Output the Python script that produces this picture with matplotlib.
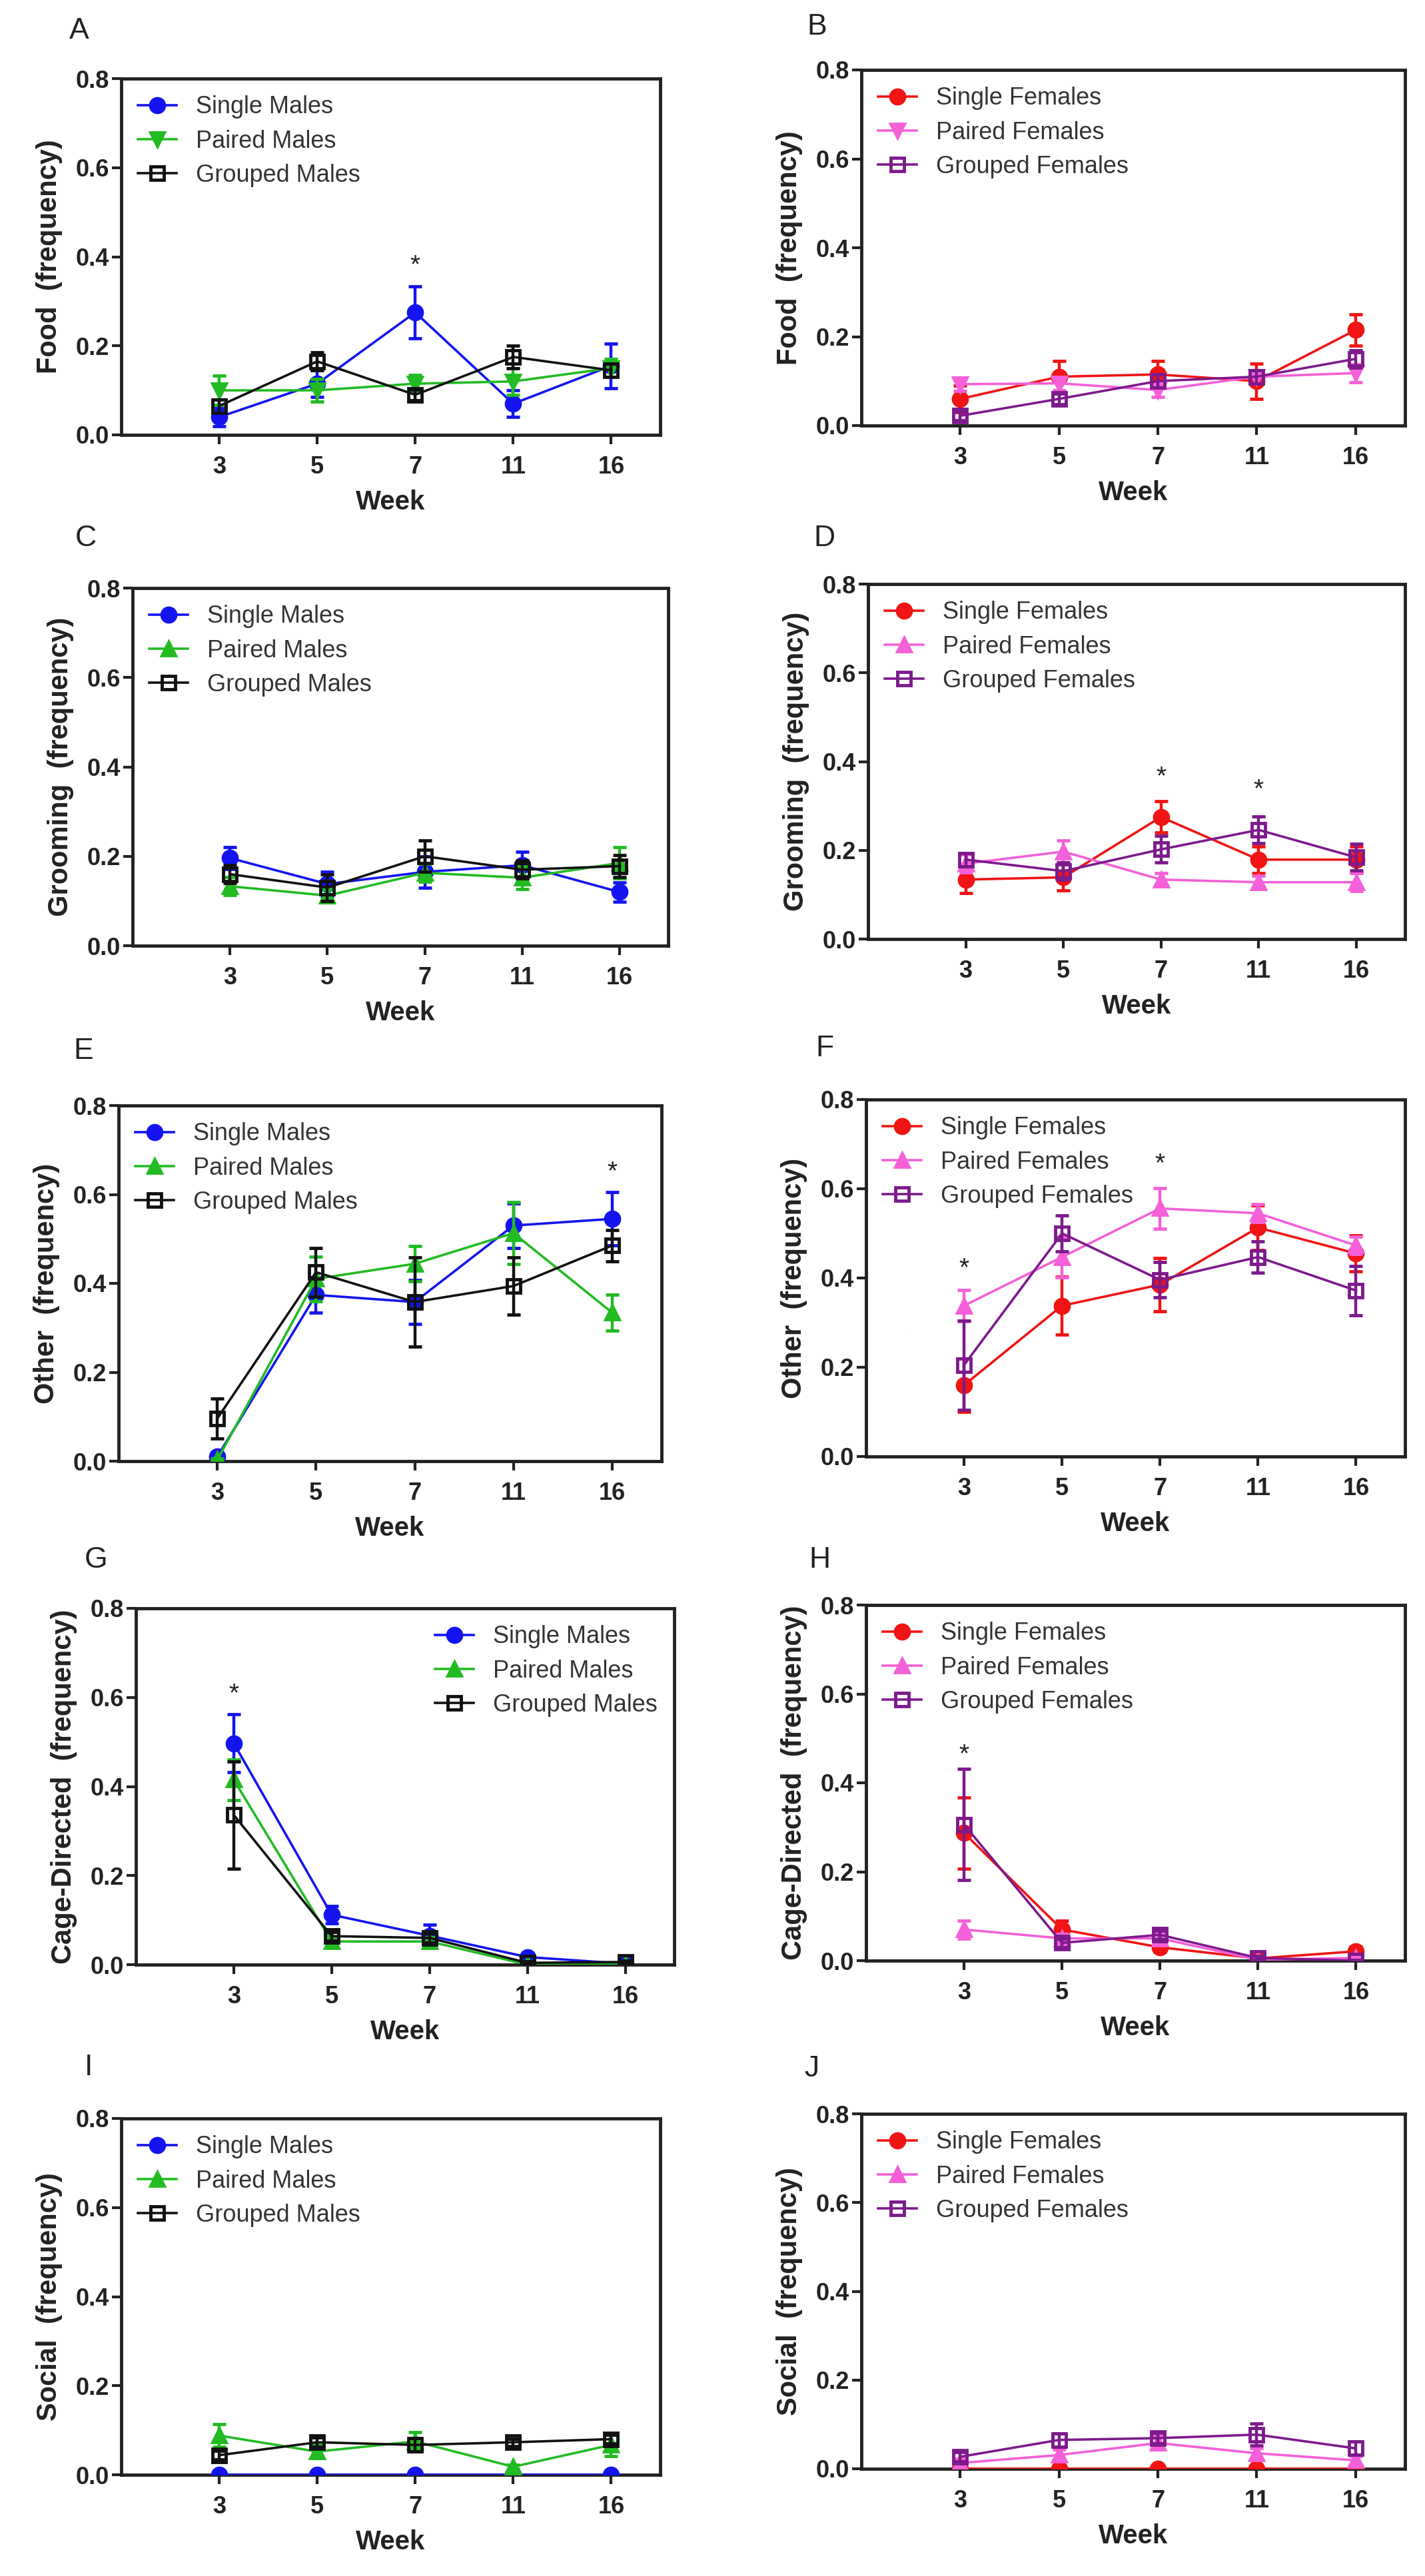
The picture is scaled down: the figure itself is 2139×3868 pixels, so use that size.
import matplotlib
matplotlib.use("Agg")
from matplotlib import pyplot as plt
import numpy as np

plt.rcParams['font.family'] = ['Liberation Sans', 'DejaVu Sans']

weeks = ['3', '5', '7', '11', '16']

male_labels = ['Single Males', 'Paired Males', 'Grouped Males']
female_labels = ['Single Females', 'Paired Females', 'Grouped Females']
male_colors = ['#1414f0', '#22bb22', '#111111']
female_colors = ['#f01414', '#f560d8', '#7d1a8c']

# A - food, males
food_m_single = [0.04, 0.115, 0.275, 0.07, 0.155]
food_m_single_err = [0.02, 0.03, 0.058, 0.03, 0.05]
food_m_paired = [0.10, 0.10, 0.115, 0.12, 0.15]
food_m_paired_err = [0.033, 0.025, 0.02, 0.03, 0.02]
food_m_grouped = [0.065, 0.165, 0.09, 0.175, 0.145]
food_m_grouped_err = [0.015, 0.02, 0.012, 0.025, 0.015]

# B - food, females
food_f_single = [0.06, 0.11, 0.115, 0.10, 0.215]
food_f_single_err = [0.03, 0.035, 0.03, 0.04, 0.035]
food_f_paired = [0.093, 0.095, 0.08, 0.11, 0.118]
food_f_paired_err = [0.015, 0.015, 0.015, 0.015, 0.02]
food_f_grouped = [0.022, 0.06, 0.10, 0.11, 0.15]
food_f_grouped_err = [0.01, 0.012, 0.015, 0.015, 0.02]

# C - grooming, males
groom_m_single = [0.196, 0.138, 0.165, 0.18, 0.12]
groom_m_single_err = [0.025, 0.028, 0.035, 0.03, 0.022]
groom_m_paired = [0.133, 0.112, 0.163, 0.152, 0.185]
groom_m_paired_err = [0.02, 0.015, 0.02, 0.025, 0.035]
groom_m_grouped = [0.16, 0.13, 0.20, 0.17, 0.178]
groom_m_grouped_err = [0.02, 0.03, 0.035, 0.02, 0.025]

# D - grooming, females
groom_f_single = [0.134, 0.139, 0.275, 0.179, 0.179]
groom_f_single_err = [0.03, 0.03, 0.035, 0.03, 0.03]
groom_f_paired = [0.17, 0.197, 0.134, 0.128, 0.128]
groom_f_paired_err = [0.02, 0.025, 0.015, 0.015, 0.02]
groom_f_grouped = [0.179, 0.153, 0.202, 0.246, 0.184]
groom_f_grouped_err = [0.015, 0.02, 0.03, 0.03, 0.03]

# E - other, males
other_m_single = [0.01, 0.374, 0.358, 0.53, 0.545]
other_m_single_err = [0.005, 0.04, 0.05, 0.05, 0.06]
other_m_paired = [0.003, 0.41, 0.444, 0.513, 0.334]
other_m_paired_err = [0.003, 0.05, 0.04, 0.07, 0.04]
other_m_grouped = [0.096, 0.425, 0.358, 0.394, 0.485]
other_m_grouped_err = [0.045, 0.055, 0.1, 0.065, 0.035]

# F - other, females
other_f_single = [0.16, 0.338, 0.385, 0.513, 0.455]
other_f_single_err = [0.06, 0.065, 0.06, 0.05, 0.04]
other_f_paired = [0.338, 0.447, 0.556, 0.545, 0.473]
other_f_paired_err = [0.035, 0.045, 0.045, 0.02, 0.02]
other_f_grouped = [0.205, 0.50, 0.396, 0.447, 0.372]
other_f_grouped_err = [0.1, 0.04, 0.04, 0.035, 0.055]

# G - cage-directed, males
cage_m_single = [0.497, 0.112, 0.065, 0.017, 0.002]
cage_m_single_err = [0.065, 0.02, 0.025, 0.006, 0.003]
cage_m_paired = [0.415, 0.052, 0.052, 0.0, 0.0]
cage_m_paired_err = [0.045, 0.01, 0.01, 0.003, 0.002]
cage_m_grouped = [0.336, 0.064, 0.06, 0.004, 0.006]
cage_m_grouped_err = [0.12, 0.01, 0.01, 0.003, 0.003]

# H - cage-directed, females
cage_f_single = [0.287, 0.07, 0.03, 0.005, 0.021]
cage_f_single_err = [0.08, 0.02, 0.01, 0.005, 0.01]
cage_f_paired = [0.07, 0.05, 0.05, 0.002, 0.006]
cage_f_paired_err = [0.02, 0.01, 0.01, 0.002, 0.003]
cage_f_grouped = [0.306, 0.04, 0.058, 0.006, 0.0]
cage_f_grouped_err = [0.125, 0.01, 0.01, 0.005, 0.002]

# I - social, males
social_m_single = [0.0, 0.0, 0.0, 0.0, 0.0]
social_m_single_err = [0.0, 0.0, 0.0, 0.0, 0.0]
social_m_paired = [0.088, 0.052, 0.075, 0.018, 0.067]
social_m_paired_err = [0.025, 0.015, 0.02, 0.005, 0.025]
social_m_grouped = [0.044, 0.073, 0.067, 0.073, 0.08]
social_m_grouped_err = [0.01, 0.01, 0.015, 0.008, 0.01]

# J - social, females
social_f_single = [0.0, 0.0, 0.0, 0.0, 0.0]
social_f_single_err = [0.0, 0.0, 0.0, 0.0, 0.0]
social_f_paired = [0.013, 0.031, 0.058, 0.035, 0.019]
social_f_paired_err = [0.01, 0.012, 0.015, 0.012, 0.01]
social_f_grouped = [0.027, 0.065, 0.069, 0.077, 0.046]
social_f_grouped_err = [0.01, 0.015, 0.012, 0.025, 0.015]

# significance stars: (week index, height)
stars_A = [(2, 0.38)]
stars_D = [(2, 0.365), (3, 0.336)]
stars_E = [(4, 0.65)]
stars_F = [(0, 0.42), (2, 0.655)]
stars_G = [(0, 0.606)]
stars_H = [(0, 0.463)]

W, H = 2139, 3868
fig = plt.figure(figsize=(W / 100, H / 100), dpi=100)

def make_axes(x0, x1, y0, y1):
    return fig.add_axes([x0 / W, 1 - y1 / H, (x1 - x0) / W, (y1 - y0) / H])

def panel(box, letter, letter_xy, ylabel, labels, colors, series, errs, tri, stars, legend_loc):
    ax = make_axes(*box)
    x = np.arange(1, len(weeks) + 1)
    markers = ['o', tri, 's']
    for i in range(3):
        ax.errorbar(x, series[i], yerr=errs[i], fmt='none', ecolor=colors[i],
                    elinewidth=3.2, capsize=7, capthick=3.5, zorder=2 + i)
        mfc = 'none' if markers[i] == 's' else colors[i]
        ax.plot(x, series[i], marker=markers[i], color=colors[i], lw=2.6,
                markersize=15 if markers[i] != 's' else 15, markerfacecolor=mfc,
                markeredgewidth=3.5, label=labels[i], zorder=3 + i)
    for idx, h in stars:
        ax.text(x[idx], h, '*', ha='center', va='center', fontsize=28, color='#222222')
    ax.set_xlim(0, 5.5)
    ax.set_ylim(0, 0.8)
    ax.set_xticks(x)
    ax.set_xticklabels(weeks)
    ax.set_yticks([0.0, 0.2, 0.4, 0.6, 0.8])
    ax.set_yticklabels(['0.0', '0.2', '0.4', '0.6', '0.8'])
    for lab in ax.get_xticklabels() + ax.get_yticklabels():
        lab.set_fontweight('bold')
    ax.tick_params(axis='x', length=10, width=3, labelsize=26, pad=12, colors='#222222')
    ax.tick_params(axis='y', length=10, width=3, labelsize=26, pad=3, colors='#222222')
    for sp in ax.spines.values():
        sp.set_linewidth(3.5)
        sp.set_color('#222222')
    ax.set_ylabel(ylabel, fontsize=30, fontweight='bold', labelpad=14, color='#222222')
    ax.set_xlabel('Week', fontsize=29, fontweight='bold', labelpad=12, color='#222222')
    ax.legend(loc=legend_loc, frameon=False, fontsize=26, handlelength=1.6,
              handletextpad=0.8, labelspacing=0.45, borderaxespad=0.3,
              labelcolor='#333333')
    fig.text(letter_xy[0] / W, 1 - letter_xy[1] / H, letter, fontsize=32,
             ha='left', va='center', color='#222222')
    return ax

panel((182, 991, 118, 653), 'A', (104, 47), 'Food  (frequency)', male_labels, male_colors,
      [food_m_single, food_m_paired, food_m_grouped],
      [food_m_single_err, food_m_paired_err, food_m_grouped_err], 'v', stars_A, 'upper left')
panel((1293, 2109, 105, 639), 'B', (1211, 40), 'Food  (frequency)', female_labels, female_colors,
      [food_f_single, food_f_paired, food_f_grouped],
      [food_f_single_err, food_f_paired_err, food_f_grouped_err], 'v', [], 'upper left')
panel((199, 1003, 883, 1420), 'C', (113, 808), 'Grooming  (frequency)', male_labels, male_colors,
      [groom_m_single, groom_m_paired, groom_m_grouped],
      [groom_m_single_err, groom_m_paired_err, groom_m_grouped_err], '^', [], 'upper left')
panel((1303, 2109, 877, 1410), 'D', (1221, 808), 'Grooming  (frequency)', female_labels, female_colors,
      [groom_f_single, groom_f_paired, groom_f_grouped],
      [groom_f_single_err, groom_f_paired_err, groom_f_grouped_err], '^', stars_D, 'upper left')
panel((178, 993, 1660, 2194), 'E', (110, 1578), 'Other  (frequency)', male_labels, male_colors,
      [other_m_single, other_m_paired, other_m_grouped],
      [other_m_single_err, other_m_paired_err, other_m_grouped_err], '^', stars_E, 'upper left')
panel((1300, 2109, 1651, 2187), 'F', (1224, 1574), 'Other  (frequency)', female_labels, female_colors,
      [other_f_single, other_f_paired, other_f_grouped],
      [other_f_single_err, other_f_paired_err, other_f_grouped_err], '^', stars_F, 'upper left')
panel((204, 1012, 2415, 2950), 'G', (127, 2342), 'Cage-Directed  (frequency)', male_labels, male_colors,
      [cage_m_single, cage_m_paired, cage_m_grouped],
      [cage_m_single_err, cage_m_paired_err, cage_m_grouped_err], '^', stars_G, 'upper right')
panel((1300, 2109, 2410, 2944), 'H', (1214, 2342), 'Cage-Directed  (frequency)', female_labels, female_colors,
      [cage_f_single, cage_f_paired, cage_f_grouped],
      [cage_f_single_err, cage_f_paired_err, cage_f_grouped_err], '^', stars_H, 'upper left')
panel((182, 991, 3181, 3716), 'I', (127, 3105), 'Social  (frequency)', male_labels, male_colors,
      [social_m_single, social_m_paired, social_m_grouped],
      [social_m_single_err, social_m_paired_err, social_m_grouped_err], '^', [], 'upper left')
panel((1293, 2109, 3174, 3707), 'J', (1207, 3107), 'Social  (frequency)', female_labels, female_colors,
      [social_f_single, social_f_paired, social_f_grouped],
      [social_f_single_err, social_f_paired_err, social_f_grouped_err], '^', [], 'upper left')

fig.savefig('out.png', dpi=100, facecolor='white')
